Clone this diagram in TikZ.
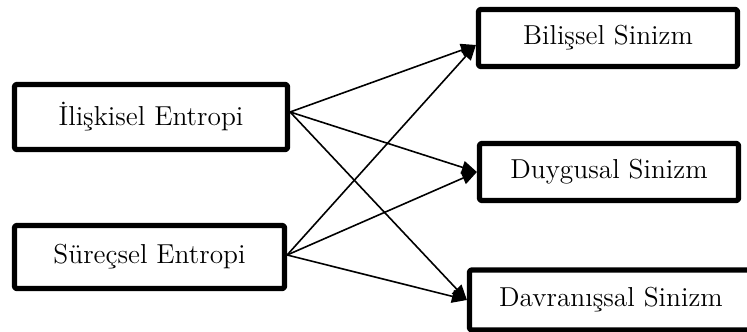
\documentclass[tikz,border=0pt]{standalone}
\usetikzlibrary{arrows.meta}

\begin{document}
\begin{tikzpicture}[
  x=0.5pt, y=-0.5pt,
  box/.style={
    draw,
    line width=2.6pt,
    line join=round,
    rounded corners=0.8pt,
    inner sep=0pt,
    font=\fontsize{13.7}{16}\selectfont,
    },
  link/.style={line width=0.8pt, -{Triangle[length=7.5pt,width=6.5pt]}}
  ]
\useasboundingbox (0,0) rectangle (747,331);
\node[box, minimum width=136.5pt, minimum height=32.5pt] (iliskisel) at (151,117) {İlişkisel Entropi};
\node[box, minimum width=135pt, minimum height=31.5pt] (surecsel) at (149.5,257) {Süreçsel Entropi};
\node[box, minimum width=129.5pt, minimum height=28.5pt] (bilissel) at (608,38) {Bilişsel Sinizm};
\node[box, minimum width=129.5pt, minimum height=28.5pt] (duygusal) at (609,172) {Duygusal Sinizm};
\node[box, minimum width=141.5pt, minimum height=30pt] (davranissal) at (611,300) {Davranışsal Sinizm};
\draw[link] ([yshift=2.5pt]iliskisel.east) -- ([yshift=-3.5pt]bilissel.west);
\draw[link] ([yshift=2.5pt]iliskisel.east) -- (duygusal.west);
\draw[link] ([yshift=2.5pt]iliskisel.east) -- (davranissal.west);
\draw[link] ([yshift=1pt]surecsel.east) -- ([yshift=-3.5pt]bilissel.west);
\draw[link] ([yshift=1pt]surecsel.east) -- (duygusal.west);
\draw[link] ([yshift=1pt]surecsel.east) -- (davranissal.west);
\end{tikzpicture}
\end{document}
